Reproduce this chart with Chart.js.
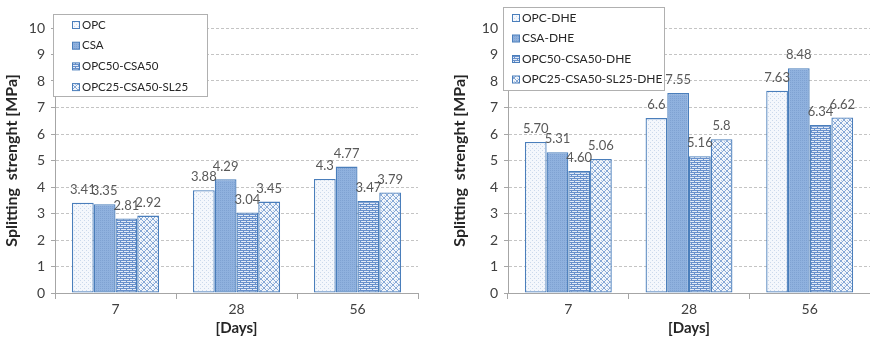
<!DOCTYPE html>
<html>
<head>
<meta charset="utf-8">
<script src="https://cdn.jsdelivr.net/npm/chart.js@4.4.0/dist/chart.umd.min.js"></script>
<style>
  html, body { margin: 0; padding: 0; background: #fff; }
  #wrap { position: relative; width: 870px; height: 343px; overflow: hidden; }
  .box { position: absolute; top: 0; height: 343px; }
</style>
</head>
<body>
<div id="wrap">
  <div class="box" style="left:0;width:432px"><canvas id="leftChart" width="432" height="343"></canvas></div>
  <div class="box" style="left:448px;width:422px"><canvas id="rightChart" width="422" height="343"></canvas></div>
</div>
<script>
// categories
var days = ['7', '28', '56'];

// left chart (normal curing)
var leftNames = ['OPC', 'CSA', 'OPC50-CSA50', 'OPC25-CSA50-SL25'];
var opc      = [3.41, 3.88, 4.30];
var csa      = [3.35, 4.29, 4.77];
var opc50    = [2.81, 3.04, 3.47];
var opc25    = [2.92, 3.45, 3.79];
var opcLbl   = ['3.41', '3.88', '4.3'];
var csaLbl   = ['3.35', '4.29', '4.77'];
var opc50Lbl = ['2.81', '3.04', '3.47'];
var opc25Lbl = ['2.92', '3.45', '3.79'];

// right chart (DHE)
var rightNames = ['OPC-DHE', 'CSA-DHE', 'OPC50-CSA50-DHE', 'OPC25-CSA50-SL25-DHE'];
var opcDhe      = [5.70, 6.6, 7.63];
var csaDhe      = [5.31, 7.55, 8.48];
var opc50Dhe    = [4.60, 5.16, 6.34];
var opc25Dhe    = [5.06, 5.8, 6.62];
var opcDheLbl   = ['5.70', '6.6', '7.63'];
var csaDheLbl   = ['5.31', '7.55', '8.48'];
var opc50DheLbl = ['4.60', '5.16', '6.34'];
var opc25DheLbl = ['5.06', '5.8', '6.62'];

var yTicks = [0, 1, 2, 3, 4, 5, 6, 7, 8, 9, 10];

var FONT = 'Lato, "Open Sans", sans-serif';
var EDGE = '#4a7ebb';

// fill patterns that mimic the excel hatches
function makePattern(kind) {
    var c = document.createElement('canvas');
    var g = c.getContext('2d');
    if (kind == 'dots') {
        c.width = 4; c.height = 4;
        g.fillStyle = '#f4f7fc'; g.fillRect(0, 0, 4, 4);
        g.fillStyle = '#cbd9ec'; g.fillRect(0, 0, 1, 1); g.fillRect(2, 2, 1, 1);
    } else if (kind == 'solid') {
        c.width = 2; c.height = 2;
        g.fillStyle = '#8fb1de'; g.fillRect(0, 0, 2, 2);
        g.fillStyle = '#7fa2d2'; g.fillRect(0, 0, 1, 1);
    } else if (kind == 'brick') {
        c.width = 6; c.height = 4;
        g.fillStyle = '#e2ebf7'; g.fillRect(0, 0, 6, 4);
        g.fillStyle = '#6890cb';
        g.fillRect(0, 0, 6, 1); g.fillRect(0, 2, 6, 1);
        g.fillRect(0, 1, 1, 1); g.fillRect(3, 3, 1, 1);
    } else {
        c.width = 6; c.height = 6;
        g.fillStyle = '#f2f6fb'; g.fillRect(0, 0, 6, 6);
        g.fillStyle = '#86a8d6';
        for (var i = 0; i < 6; i++) {
            g.fillRect(i, i, 1, 1);
            g.fillRect(5 - i, i, 1, 1);
        }
        g.fillStyle = '#b4c9e6';
        g.fillRect(3, 0, 1, 1); g.fillRect(0, 3, 1, 1);
    }
    return g.createPattern(c, 'repeat');
}

var fills = [makePattern('dots'), makePattern('solid'), makePattern('brick'), makePattern('diamond')];

// value labels above every bar
var valueLabels = {
    id: 'valueLabels',
    afterDatasetsDraw: function (chart) {
        var ctx = chart.ctx;
        ctx.save();
        ctx.font = '13px ' + FONT;
        ctx.fillStyle = '#595959';
        ctx.textAlign = 'center';
        ctx.textBaseline = 'middle';
        chart.data.datasets.forEach(function (ds, i) {
            chart.getDatasetMeta(i).data.forEach(function (bar, j) {
                ctx.fillText(ds.valueText[j], bar.x, bar.y - 13);
            });
        });
        ctx.restore();
    }
};

// boxed legend in the upper left of the plot
var boxLegend = {
    id: 'boxLegend',
    afterDraw: function (chart) {
        var o = chart.options.plugins.boxLegend;
        var ctx = chart.ctx;
        ctx.save();
        ctx.fillStyle = '#fff';
        ctx.fillRect(o.x, o.y, o.w, o.h);
        ctx.strokeStyle = '#b0b0b0';
        ctx.lineWidth = 1;
        ctx.strokeRect(o.x + 0.5, o.y + 0.5, o.w, o.h);
        ctx.font = o.size + 'px ' + FONT;
        ctx.textBaseline = 'middle';
        chart.data.datasets.forEach(function (ds, i) {
            var cy = o.y + o.first + i * o.step;
            ctx.fillStyle = ds.backgroundColor;
            ctx.fillRect(o.x + o.sw, cy - 3.5, 7, 7);
            ctx.strokeStyle = EDGE;
            ctx.strokeRect(o.x + o.sw + 0.5, cy - 3.5, 7, 7);
            ctx.fillStyle = '#262626';
            ctx.fillText(ds.label, o.x + o.sw + 10, cy);
        });
        ctx.restore();
    }
};

function buildSets(names, values, texts) {
    return names.map(function (n, i) {
        return {
            label: n,
            data: values[i],
            valueText: texts[i],
            backgroundColor: fills[i],
            borderColor: EDGE,
            borderWidth: 1.3,
            borderSkipped: false
        };
    });
}

function makeChart(id, names, values, texts, axisWidth, padRight, legendBox) {
    return new Chart(document.getElementById(id), {
        type: 'bar',
        data: {
            labels: days,
            datasets: buildSets(names, values, texts)
        },
        options: {
            responsive: false,
            devicePixelRatio: 1,
            animation: false,
            categoryPercentage: 0.72,
            barPercentage: 1,
            layout: { padding: { top: 28, right: padRight, left: 0, bottom: 0 } },
            plugins: {
                legend: { display: false },
                tooltip: { enabled: false },
                boxLegend: legendBox
            },
            scales: {
                x: {
                    afterFit: function (s) { s.height = 50; },
                    grid: { offset: true, drawOnChartArea: false, drawTicks: true, tickLength: 6, color: '#a6a6a6' },
                    border: { display: true, color: '#a6a6a6' },
                    ticks: { font: { family: FONT, size: 14 }, color: '#404040', padding: 2 },
                    title: { display: true, text: '[Days]', font: { family: FONT, size: 15, weight: 'bold' }, color: '#262626', padding: { top: 0, bottom: 6 } }
                },
                y: {
                    min: 0,
                    max: 10,
                    afterFit: function (s) { s.width = axisWidth; },
                    afterBuildTicks: function (s) { s.ticks = yTicks.map(function (v) { return { value: v }; }); },
                    grid: { color: '#c4c4c4', tickLength: 4, tickColor: '#a6a6a6' },
                    border: { display: true, color: '#a6a6a6', dash: [3, 2] },
                    ticks: { font: { family: FONT, size: 14 }, color: '#404040', padding: 6 },
                    title: { display: true, text: 'Splitting  strenght [MPa]', font: { family: FONT, size: 16, weight: 'bold' }, color: '#262626', padding: { top: 2, bottom: 0 } }
                }
            }
        },
        plugins: [valueLabels, boxLegend]
    });
}

makeChart('leftChart', leftNames,
    [opc, csa, opc50, opc25],
    [opcLbl, csaLbl, opc50Lbl, opc25Lbl],
    55, 14,
    { x: 53, y: 14, w: 154, h: 82, sw: 19, first: 11, step: 20.7, size: 11.5 });

makeChart('rightChart', rightNames,
    [opcDhe, csaDhe, opc50Dhe, opc25Dhe],
    [opcDheLbl, csaDheLbl, opc50DheLbl, opc25DheLbl],
    60, 0,
    { x: 55, y: 7, w: 161, h: 83, sw: 9, first: 11, step: 20.5, size: 12 });
</script>
</body>
</html>
